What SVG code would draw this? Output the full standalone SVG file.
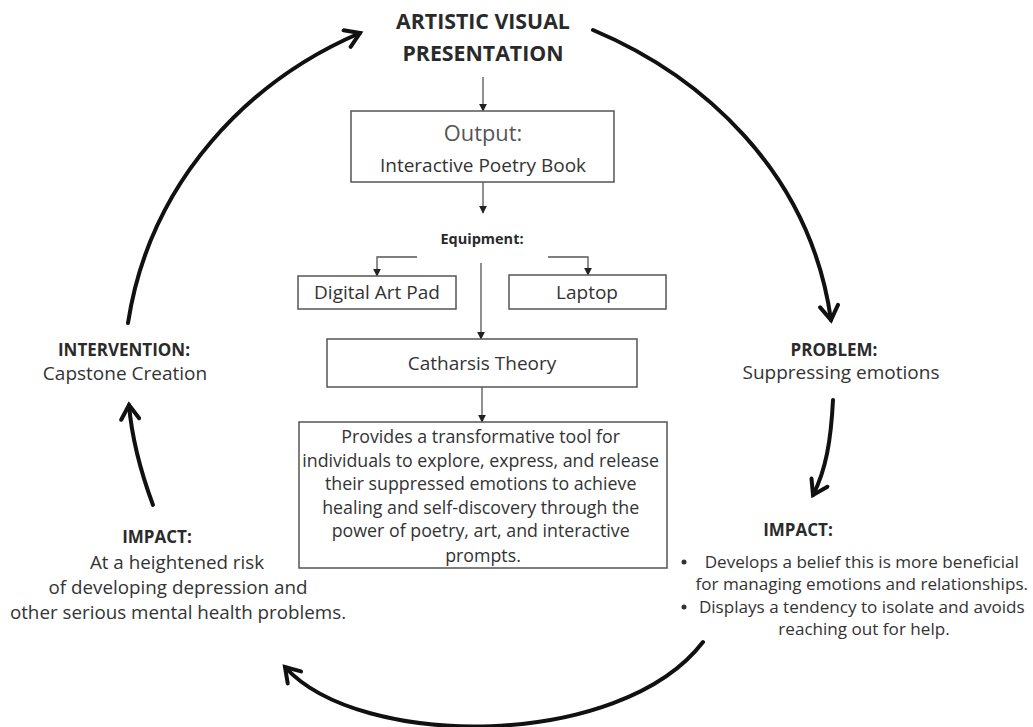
<svg xmlns="http://www.w3.org/2000/svg" width="1033" height="727" viewBox="0 0 1033 727">
<defs>
<marker id="big" viewBox="0 0 22 22" refX="17" refY="11" markerWidth="22" markerHeight="22" markerUnits="userSpaceOnUse" orient="auto">
<path d="M3,2 L17,11 L3,20" fill="none" stroke="#111" stroke-width="4" stroke-linecap="round" stroke-linejoin="miter"/>
</marker>
<marker id="small" viewBox="0 0 10 10" refX="9" refY="5" markerWidth="8" markerHeight="8" markerUnits="userSpaceOnUse" orient="auto">
<path d="M0,0 L10,5 L0,10 Z" fill="#222"/>
</marker>
</defs>
<style>
.t{font-family:"Open Sans","Noto Sans",sans-serif;fill:#333;text-anchor:middle}
.h{font-family:"Open Sans","Noto Sans",sans-serif;fill:#2a2a2a;font-weight:700;text-anchor:middle}
.box{fill:#fff;stroke:#555;stroke-width:1.5}
.cyc{fill:none;stroke:#111;stroke-width:4;stroke-linecap:round;marker-end:url(#big)}
.lnk{fill:none;stroke:#555;stroke-width:1.3;marker-end:url(#small)}
</style>
<rect width="1033" height="727" fill="#fff"/>

<g id="connectors">
<path class="cyc" d="M128,323 C150,180 250,80 360,33"/>
<path class="cyc" d="M593,30 C700,75 810,170 831,320"/>
<path class="cyc" d="M833,400 C831,440 826,470 813,495"/>
<path class="cyc" d="M703,642 C620,750 360,750 285,667"/>
<path class="cyc" d="M153,505 C140,470 132,440 129,405"/>
<path class="lnk" d="M483,77 V111"/>
<path class="lnk" d="M483,182 V213"/>
<path class="lnk" d="M417,257 H377 V276"/>
<path class="lnk" d="M548,257 H588 V275"/>
<path class="lnk" d="M481,263 V339"/>
<path class="lnk" d="M482,387 V422"/>
</g>

<g id="artistic-visual-presentation">
<text class="h" x="483" y="29" font-size="21.3">ARTISTIC VISUAL</text>
<text class="h" x="483" y="61" font-size="21.3">PRESENTATION</text>
</g>

<g id="output">
<rect class="box" x="351" y="111" width="263" height="71"/>
<text class="t" x="483" y="141" font-size="21.8" style="fill:#555">Output:</text>
<text class="t" x="483" y="172" font-size="19">Interactive Poetry Book</text>
</g>

<g id="equipment">
<text class="h" x="482" y="244" font-size="14.5">Equipment:</text>
</g>

<g id="digital-art-pad">
<rect class="box" x="298" y="276" width="158" height="33"/>
<text class="t" x="377" y="299" font-size="19">Digital Art Pad</text>
</g>

<g id="laptop">
<rect class="box" x="509" y="275" width="157" height="34"/>
<text class="t" x="587" y="299" font-size="19">Laptop</text>
</g>

<g id="catharsis-theory">
<rect class="box" x="327" y="339" width="310" height="48"/>
<text class="t" x="482" y="370" font-size="19">Catharsis Theory</text>
</g>

<g id="description">
<rect class="box" x="299" y="422" width="368" height="146"/>
<text class="t" font-size="17.8">
<tspan x="483" y="443">Provides a transformative tool for</tspan>
<tspan x="483" y="467">individuals to explore, express, and release</tspan>
<tspan x="483" y="490">their suppressed emotions to achieve</tspan>
<tspan x="483" y="514">healing and self-discovery through the</tspan>
<tspan x="483" y="537">power of poetry, art, and interactive</tspan>
<tspan x="483" y="562">prompts.</tspan>
</text>
</g>

<g id="intervention">
<text class="h" x="124" y="356" font-size="17">INTERVENTION:</text>
<text class="t" x="125" y="380" font-size="19">Capstone Creation</text>
</g>

<g id="problem">
<text class="h" x="834" y="356" font-size="17">PROBLEM:</text>
<text class="t" x="841" y="379" font-size="19">Suppressing emotions</text>
</g>

<g id="impact-left">
<text class="h" x="157" y="543" font-size="17">IMPACT:</text>
<text class="t" x="177" y="569" font-size="18.8">At a heightened risk</text>
<text class="t" x="178" y="594" font-size="18.8">of developing depression and</text>
<text class="t" x="178" y="619" font-size="18.8">other serious mental health problems.</text>
</g>

<g id="impact-right">
<text class="h" x="798" y="536" font-size="17">IMPACT:</text>
<circle cx="684" cy="562" r="2.5" fill="#333"/>
<circle cx="684" cy="607" r="2.5" fill="#333"/>
<text class="t" font-size="17.1">
<tspan x="864" y="568">Develops a belief this is more beneficial</tspan>
<tspan x="864" y="590">for managing emotions and relationships.</tspan>
<tspan x="864" y="613">Displays a tendency to isolate and avoids</tspan>
<tspan x="864" y="635">reaching out for help.</tspan>
</text>
</g>
</svg>
